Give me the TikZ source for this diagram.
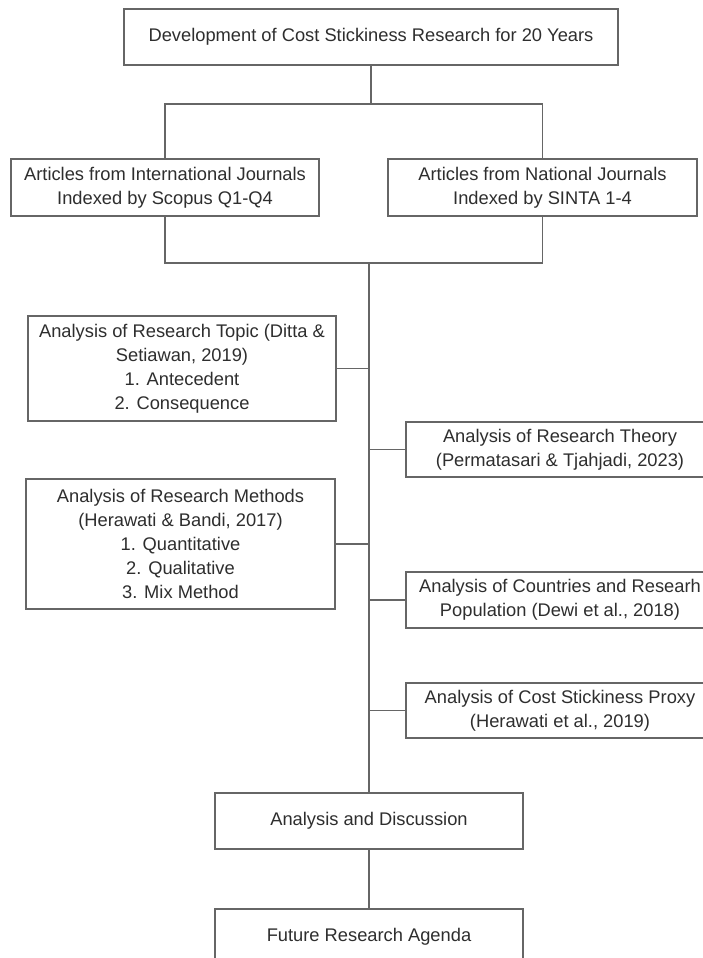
\documentclass[tikz,border=0pt]{standalone}
\usepackage{fontspec}
\setmainfont{Liberation Sans}
\usepackage{xcolor}
\definecolor{linegray}{HTML}{666666}
\definecolor{textgray}{HTML}{2E2E2E}

\begin{document}
\begin{tikzpicture}[x=1pt,y=-1pt,
  box/.style={draw=linegray,line width=1.5pt,fill=white,text=textgray,align=center,
    inner sep=0pt,font=\fontsize{18.3}{24}\selectfont},
  link/.style={draw=linegray,line width=1.5pt}]
\useasboundingbox (0,0) rectangle (703,958);

%title
\node[box,minimum width=494,minimum height=56] (top) at (371,37)
  {Development of Cost Stickiness Research for 20 Years};

%journals
\node[box,minimum width=308,minimum height=57] (intl) at (165,187.5)
  {Articles from International Journals\\Indexed by Scopus Q1-Q4};
\node[box,minimum width=309,minimum height=57] (natl) at (542.5,187.5)
  {Articles from National Journals\\Indexed by SINTA 1-4};
\coordinate (split) at (371,104);
\coordinate (merge) at (369,263);

%left analyses
\node[box,minimum width=308,minimum height=105] (topic) at (182,368.5)
  {Analysis of Research Topic (Ditta \&\\Setiawan, 2019)\\1. Antecedent\\2. Consequence};
\node[box,minimum width=309,minimum height=130] (method) at (180.5,544)
  {Analysis of Research Methods\\(Herawati \& Bandi, 2017)\\1. Quantitative\\2. Qualitative\\3. Mix Method};

%right analyses
\node[box,minimum width=308,minimum height=55] (theory) at (560,449.5)
  {Analysis of Research Theory\\(Permatasari \& Tjahjadi, 2023)};
\node[box,minimum width=308,minimum height=56] (country) at (560,600)
  {Analysis of Countries and Researh\\Population (Dewi et al., 2018)};
\node[box,minimum width=308,minimum height=55] (proxy) at (560,710.5)
  {Analysis of Cost Stickiness Proxy\\(Herawati et al., 2019)};

%end
\node[box,minimum width=308,minimum height=56] (disc) at (369,821)
  {Analysis and Discussion};
\node[box,minimum width=308,minimum height=56] (future) at (369,937)
  {Future Research Agenda};

%connectors
\draw[link] (top.south) -- (split);
\draw[link] (intl.north) |- (split) -| (natl.north);
\draw[link] (intl.south) |- (merge) -| (natl.south);
\draw[link] (merge) -- (disc.north);
\draw[link] (disc.south) -- (future.north);
\draw[link] (topic.east) -- (topic.east -| merge);
\draw[link] (method.east) -- (method.east -| merge);
\draw[link] (theory.west) -- (theory.west -| merge);
\draw[link] (country.west) -- (country.west -| merge);
\draw[link] (proxy.west) -- (proxy.west -| merge);
\end{tikzpicture}
\end{document}
